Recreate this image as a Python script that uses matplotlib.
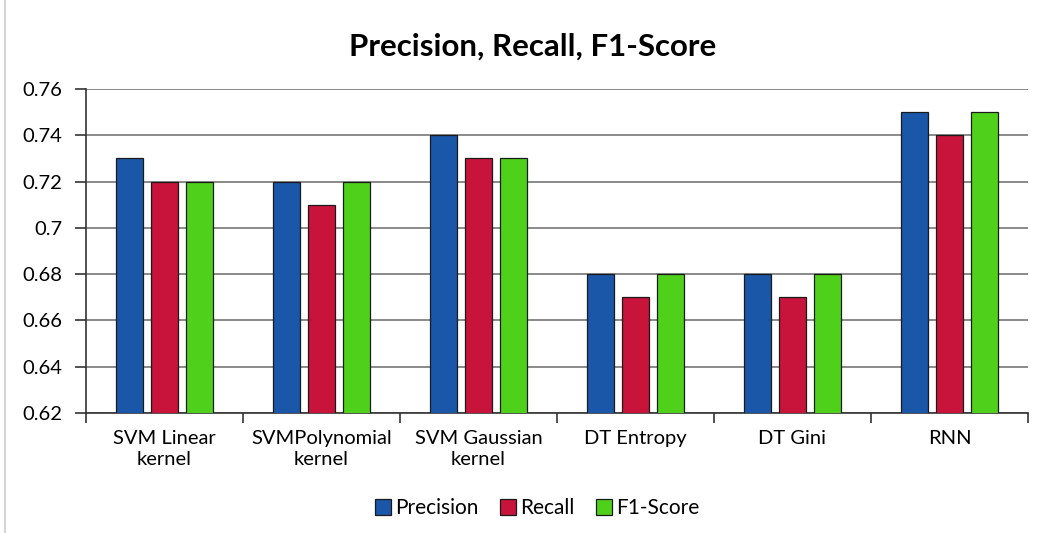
import numpy as np
import matplotlib
matplotlib.use("Agg")
import matplotlib.pyplot as plt
from matplotlib.lines import Line2D

categories = ["SVM Linear\nkernel", "SVMPolynomial\nkernel", "SVM Gaussian\nkernel",
              "DT Entropy", "DT Gini", "RNN"]
precision = [0.73, 0.72, 0.74, 0.68, 0.68, 0.75]
recall = [0.72, 0.71, 0.73, 0.67, 0.67, 0.74]
f1_score = [0.72, 0.72, 0.73, 0.68, 0.68, 0.75]
series_names = ["Precision", "Recall", "F1-Score"]
colors = ["#1B57A8", "#C8143A", "#4FD11B"]

plt.rcParams['font.family'] = ['Lato', 'DejaVu Sans']

fig = plt.figure(figsize=(10.45, 5.33), dpi=100)
ax = fig.add_axes([0.0823, 0.2251, 0.9014, 0.6079])

x = np.arange(len(categories))
width = 0.175
step = 0.223
for i, (vals, name, c) in enumerate(zip([precision, recall, f1_score], series_names, colors)):
    ax.bar(x + (i - 1) * step, vals, width, color=c, edgecolor="#1a1a1a",
           linewidth=0.9, label=name, zorder=3)

ax.set_ylim(0.62, 0.76)
ax.set_xlim(-0.5, len(categories) - 0.5)
yt = np.arange(0.62, 0.7601, 0.02)
ax.set_yticks(yt)
ax.set_yticklabels([f"{v:.2f}".rstrip("0") if round(v, 2) == 0.7 else f"{v:.2f}" for v in yt])
ax.yaxis.grid(True, color="#8a8a8a", linewidth=1.4, zorder=0)
ax.set_axisbelow(True)

# category ticks at the boundaries, labels in the middle
ax.set_xticks(np.arange(-0.5, len(categories)), minor=False)
ax.set_xticklabels([])
ax.set_xticks(x, minor=True)
ax.set_xticklabels(categories, minor=True, fontsize=14.5, linespacing=1.3)
ax.tick_params(axis="x", which="minor", length=0, pad=12)
ax.tick_params(axis="x", which="major", length=7, width=1.2, color="#333333")
ax.tick_params(axis="y", length=8, width=1.2, color="#333333", labelsize=14.5, pad=9)

for side in ["top", "right"]:
    ax.spines[side].set_visible(False)
ax.spines["left"].set_color("#333333")
ax.spines["bottom"].set_color("#333333")
ax.spines["left"].set_linewidth(1.2)
ax.spines["bottom"].set_linewidth(1.2)

fig.text(0.510, 0.913, "Precision, Recall, F1-Score", ha="center", va="center",
         fontsize=22.5, fontweight="bold")

handles = [Line2D([0], [0], marker="s", linestyle="none", markersize=11,
                  markerfacecolor=c, markeredgecolor="#1a1a1a", markeredgewidth=0.9)
           for c in colors]
fig.legend(handles, series_names, loc="center", bbox_to_anchor=(0.513, 0.047),
           ncol=3, frameon=False, fontsize=15, handletextpad=0.1,
           columnspacing=0.9, handlelength=1.0)

# faint chart border on the left
fig.add_artist(Line2D([0.005, 0.005], [0.0, 1.0], color="#cccccc", linewidth=1.2))

fig.savefig("out.png", dpi=100)
